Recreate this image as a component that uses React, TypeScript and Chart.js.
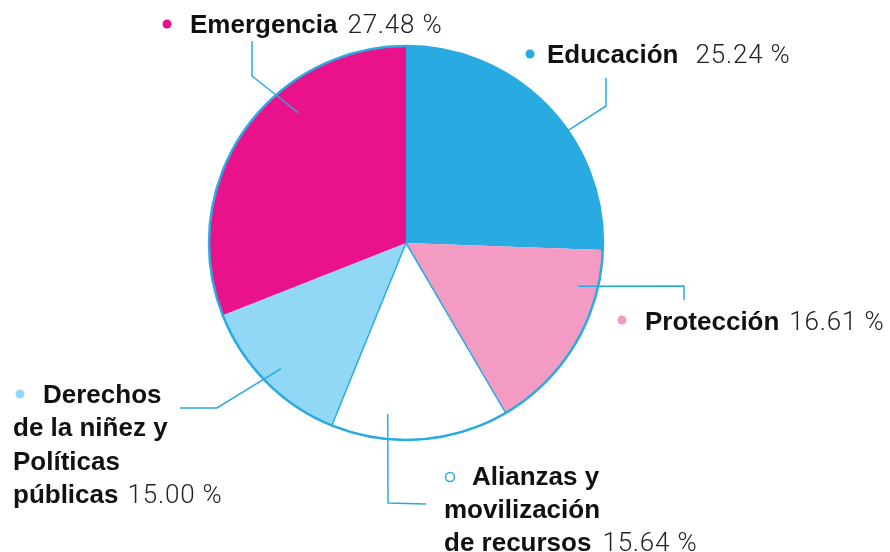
import React, { useEffect, useRef } from 'react';
import { Chart, registerables } from 'chart.js';

Chart.register(...registerables);

// ---- data ----
const categories = [
  'Educación',
  'Protección',
  'Alianzas y movilización de recursos',
  'Derechos de la niñez y Políticas públicas',
  'Emergencia',
];
// slice sizes as drawn in the picture (percent of the circle)
const sliceShares = [25.6, 16.0, 14.6, 12.9, 31.0];
// percentages printed in the labels
const percentLabels = ['25.24 %', '16.61 %', '15.64 %', '15.00 %', '27.48 %'];

// ---- styles ----
const sliceColors = ['#29abe2', '#f39bc3', '#ffffff', '#90d8f6', '#e9128b'];
const OUTLINE = '#29abe2';
const BOLD_FONT = "bold 26px 'Liberation Sans', Arial, sans-serif";
const NUM_FONT = "300 26px Roboto, 'Liberation Sans', sans-serif";
const TEXT_COLOR = '#111111';

// ---- label layout (positions of annotation text / leaders) ----
type Layout = {
  lines: string[];
  xFirst: number;
  xRest: number;
  y0: number;
  lh: number;
  numGap: number;
  bullet: { x: number; y: number; hollow: boolean };
  leader: { t: number; k: number; pts: number[][] };
};

const labelLayout: Layout[] = [
  {
    lines: ['Educación'],
    xFirst: 547, xRest: 547, y0: 63, lh: 33, numGap: 17,
    bullet: { x: 530, y: 54, hollow: false },
    leader: { t: 0.6, k: 1.0, pts: [[606, 106], [606, 78]] },
  },
  {
    lines: ['Protección'],
    xFirst: 645, xRest: 645, y0: 330, lh: 33, numGap: 10,
    bullet: { x: 622, y: 320, hollow: false },
    leader: { t: 0.21, k: 0.9, pts: [[684, 286], [684, 300]] },
  },
  {
    lines: ['Alianzas y', 'movilización', 'de recursos'],
    xFirst: 472, xRest: 444, y0: 485, lh: 33, numGap: 11,
    bullet: { x: 450, y: 477, hollow: true },
    leader: { t: 0.695, k: 0.873, pts: [[388, 503], [426, 504]] },
  },
  {
    lines: ['Derechos', 'de la niñez y', 'Políticas', 'públicas'],
    xFirst: 43, xRest: 13, y0: 403, lh: 33.3, numGap: 9,
    bullet: { x: 20, y: 394, hollow: false },
    leader: { t: 0.49, k: 0.9, pts: [[217, 408], [180, 408]] },
  },
  {
    lines: ['Emergencia'],
    xFirst: 190, xRest: 190, y0: 33, lh: 33, numGap: 10,
    bullet: { x: 167, y: 24, hollow: false },
    leader: { t: 0.645, k: 0.858, pts: [[252, 76], [252, 41]] },
  },
];

const overlayPlugin = {
  id: 'overlay',
  afterDatasetsDraw(chart: any) {
    const ctx: any = chart.ctx;
    const arcs = chart.getDatasetMeta(0).data as any[];
    if (!arcs.length) return;
    const p0 = arcs[0].getProps(['x', 'y', 'outerRadius'], true);
    const cx = p0.x, cy = p0.y, r = p0.outerRadius;
    ctx.save();
    ctx.strokeStyle = OUTLINE;
    ctx.lineJoin = 'miter';

    // outline of the white slice
    const a = arcs[2].getProps(['startAngle', 'endAngle'], true);
    ctx.beginPath();
    ctx.moveTo(cx, cy);
    ctx.arc(cx, cy, r, a.startAngle, a.endAngle);
    ctx.closePath();
    ctx.lineWidth = 1.5;
    ctx.stroke();

    // outer circle
    ctx.beginPath();
    ctx.arc(cx, cy, r, 0, Math.PI * 2);
    ctx.lineWidth = 2.5;
    ctx.stroke();

    // leader lines
    labelLayout.forEach((L, i) => {
      const arc = arcs[i].getProps(['startAngle', 'endAngle'], true);
      const ang = arc.startAngle + (arc.endAngle - arc.startAngle) * L.leader.t;
      const sx = cx + r * L.leader.k * Math.cos(ang);
      const sy = cy + r * L.leader.k * Math.sin(ang);
      ctx.beginPath();
      ctx.moveTo(sx, sy);
      L.leader.pts.forEach((p) => ctx.lineTo(p[0], p[1]));
      ctx.lineWidth = 1.5;
      ctx.stroke();
    });

    // labels
    ctx.textBaseline = 'alphabetic';
    ctx.textAlign = 'left';
    labelLayout.forEach((L, i) => {
      ctx.beginPath();
      ctx.arc(L.bullet.x, L.bullet.y, 4.5, 0, Math.PI * 2);
      if (L.bullet.hollow) {
        ctx.strokeStyle = OUTLINE;
        ctx.lineWidth = 1.5;
        ctx.stroke();
      } else {
        ctx.fillStyle = sliceColors[i];
        ctx.fill();
      }
      ctx.fillStyle = TEXT_COLOR;
      let lastX = 0;
      let lastY = 0;
      L.lines.forEach((line, j) => {
        const x = j === 0 ? L.xFirst : L.xRest;
        const y = L.y0 + j * L.lh;
        ctx.font = BOLD_FONT;
        ctx.letterSpacing = '0px';
        ctx.fillText(line, x, y);
        lastX = x + ctx.measureText(line).width;
        lastY = y;
      });
      ctx.font = NUM_FONT;
      ctx.letterSpacing = '0.8px';
      ctx.fillStyle = '#222222';
      ctx.fillText(percentLabels[i], lastX + L.numGap, lastY);
      ctx.letterSpacing = '0px';
    });
    ctx.restore();
  },
};

export default function App() {
  const canvasRef = useRef<HTMLCanvasElement | null>(null);

  useEffect(() => {
    document.body.style.margin = '0';
    const canvas = canvasRef.current;
    if (!canvas) return;
    const chart = new Chart(canvas, {
      type: 'pie',
      data: {
        labels: categories,
        datasets: [
          {
            data: sliceShares,
            backgroundColor: sliceColors,
            borderWidth: 0,
          },
        ],
      },
      options: {
        responsive: false,
        maintainAspectRatio: false,
        animation: false,
        events: [],
        layout: { padding: { top: 46, bottom: 112, left: 0, right: 78 } },
        plugins: {
          legend: { display: false },
          tooltip: { enabled: false },
        },
      },
      plugins: [overlayPlugin],
    });
    return () => chart.destroy();
  }, []);

  return (
    <div style={{ position: 'fixed', left: 0, top: 0, width: 890, height: 552, background: '#ffffff' }}>
      <canvas ref={canvasRef} width={890} height={552} style={{ display: 'block', width: 890, height: 552 }} />
    </div>
  );
}
